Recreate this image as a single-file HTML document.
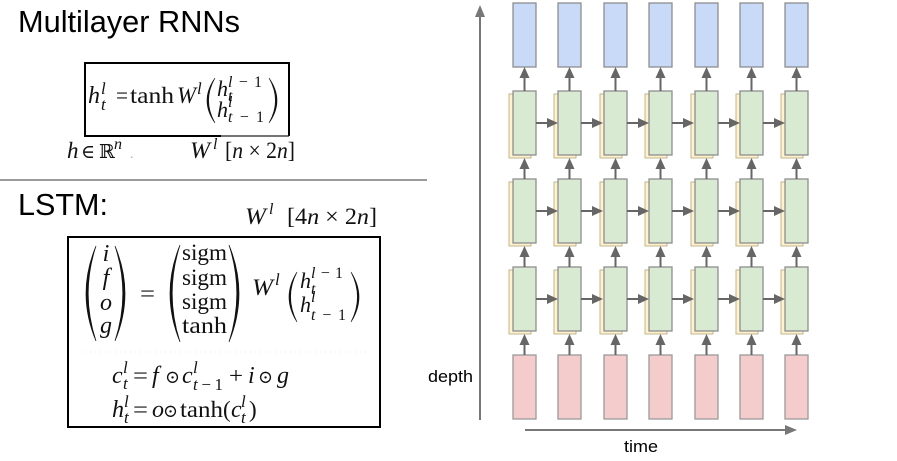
<!DOCTYPE html>
<html><head><meta charset="utf-8"><style>
html,body{margin:0;padding:0;background:#fff;}
svg{display:block;}
.s{font-family:"Liberation Sans",sans-serif;fill:#000;}
.m{font-family:"Liberation Serif","DejaVu Serif",serif;fill:#111;font-size:23px;}
.i{font-style:italic;}
.d{font-family:"DejaVu Serif","Liberation Serif",serif;}
</style></head><body>
<svg width="897" height="461" viewBox="0 0 897 461" xmlns="http://www.w3.org/2000/svg">
<rect width="897" height="461" fill="#fff"/>

<!-- ===== Left: Multilayer RNNs ===== -->
<text class="s" x="18" y="32" font-size="30.5" textLength="222" lengthAdjust="spacingAndGlyphs">Multilayer RNNs</text>

<path d="M85 63 H289 V136" fill="none" stroke="#000" stroke-width="2"/>
<path d="M85 62 V136 H221" fill="none" stroke="#000" stroke-width="2"/>
<path d="M221 136 H289" fill="none" stroke="#222" stroke-width="1.2"/>

<g class="m">
  <text class="i" x="88" y="103" font-size="24">h</text>
  <text class="i" x="101" y="94" font-size="17">l</text>
  <text class="i" x="101" y="110" font-size="17">t</text>
  <text x="116" y="103" textLength="12" lengthAdjust="spacingAndGlyphs">=</text>
  <text x="130" y="103" textLength="44" lengthAdjust="spacingAndGlyphs">tanh</text>
  <text class="i" x="177" y="103" textLength="19" lengthAdjust="spacingAndGlyphs">W</text>
  <text class="i" x="197" y="94" font-size="17">l</text>
  <text class="i" x="217" y="96" font-size="22">h</text>
  <text x="228" y="87" font-size="16" textLength="34" lengthAdjust="spacing"><tspan font-style="italic">l</tspan>−1</text>
  <text class="i" x="228" y="101" font-size="16">t</text>
  <text class="i" x="217" y="117" font-size="22">h</text>
  <text class="i" x="228" y="107" font-size="16">l</text>
  <text x="228" y="122" font-size="16" textLength="36" lengthAdjust="spacing"><tspan font-style="italic">t</tspan>−1</text>
</g>
<!-- parens box1 -->
<path d="M215 78 Q199 100.5 215 123 Q202.2 100.5 215 78 Z" fill="#111" stroke="#111" stroke-width="0.6"/>
<path d="M269 78 Q285 100.5 269 123 Q281.8 100.5 269 78 Z" fill="#111" stroke="#111" stroke-width="0.6"/>

<g class="m">
  <text class="i" x="67" y="158">h</text>
  <text class="d" x="81" y="158" font-size="19">∈</text>
  <text class="d" x="99" y="158" font-size="19">ℝ</text>
  <text class="i" x="114" y="149" font-size="16">n</text>
  <text x="130" y="158" font-size="14" fill="#aaa">.</text>
  <text class="i" x="190" y="158" textLength="20" lengthAdjust="spacingAndGlyphs">W</text>
  <text class="i" x="213" y="149" font-size="16">l</text>
  <text x="225" y="158" textLength="70" lengthAdjust="spacingAndGlyphs">[<tspan font-style="italic">n</tspan> × 2<tspan font-style="italic">n</tspan>]</text>
</g>

<line x1="0" y1="180" x2="427" y2="180" stroke="#7a7a7a" stroke-width="1.5"/>

<!-- ===== LSTM ===== -->
<text class="s" x="18" y="215" font-size="30.5" textLength="90" lengthAdjust="spacingAndGlyphs">LSTM:</text>
<g class="m">
  <text class="i" x="245" y="224" textLength="21" lengthAdjust="spacingAndGlyphs">W</text>
  <text class="i" x="269" y="214" font-size="16">l</text>
  <text x="287" y="224" textLength="90" lengthAdjust="spacingAndGlyphs">[4<tspan font-style="italic">n</tspan> × 2<tspan font-style="italic">n</tspan>]</text>
</g>

<rect x="68" y="237" width="312" height="190" fill="none" stroke="#000" stroke-width="2"/>
<line x1="85" y1="352" x2="370" y2="352" stroke="#eeeeee" stroke-width="1" stroke-dasharray="1 4"/>

<!-- big parens -->
<path d="M96 246 Q76 293.5 96 341 Q80.4 293.5 96 246 Z" fill="#111" stroke="#111" stroke-width="0.7"/>
<path d="M115 246 Q135 293.5 115 341 Q130.6 293.5 115 246 Z" fill="#111" stroke="#111" stroke-width="0.7"/>
<path d="M180 245 Q160 293.5 180 342 Q164.4 293.5 180 245 Z" fill="#111" stroke="#111" stroke-width="0.7"/>
<path d="M229 245 Q249 293.5 229 342 Q244.6 293.5 229 245 Z" fill="#111" stroke="#111" stroke-width="0.7"/>
<path d="M297 272 Q281 297 297 322 Q284.2 297 297 272 Z" fill="#111" stroke="#111" stroke-width="0.6"/>
<path d="M351 272 Q367 297 351 322 Q363.8 297 351 272 Z" fill="#111" stroke="#111" stroke-width="0.6"/>

<g class="m">
  <text class="i" x="106" y="261" text-anchor="middle" font-size="24">i</text>
  <text class="i" x="106" y="285" text-anchor="middle" font-size="24">f</text>
  <text class="i" x="106" y="310" text-anchor="middle" font-size="24">o</text>
  <text class="i" x="106" y="333" text-anchor="middle" font-size="24">g</text>
  <text x="140" y="301" textLength="15" lengthAdjust="spacingAndGlyphs">=</text>
  <text x="182" y="260" textLength="45" lengthAdjust="spacingAndGlyphs">sigm</text>
  <text x="182" y="285" textLength="45" lengthAdjust="spacingAndGlyphs">sigm</text>
  <text x="182" y="309" textLength="45" lengthAdjust="spacingAndGlyphs">sigm</text>
  <text x="182" y="333" textLength="45" lengthAdjust="spacingAndGlyphs">tanh</text>
  <text class="i" x="252" y="295" textLength="21" lengthAdjust="spacingAndGlyphs">W</text>
  <text class="i" x="275" y="285" font-size="17">l</text>
  <text class="i" x="300" y="288" font-size="22">h</text>
  <text x="311" y="278" font-size="16" textLength="32" lengthAdjust="spacing"><tspan font-style="italic">l</tspan>−1</text>
  <text class="i" x="311" y="294" font-size="16">t</text>
  <text class="i" x="300" y="312" font-size="22">h</text>
  <text class="i" x="311" y="302" font-size="16">l</text>
  <text x="311" y="320" font-size="16" textLength="35" lengthAdjust="spacing"><tspan font-style="italic">t</tspan>−1</text>

  <!-- c line -->
  <text class="i" x="112" y="383" font-size="24">c</text>
  <text class="i" x="123" y="373" font-size="17">l</text>
  <text class="i" x="123" y="389" font-size="17">t</text>
  <text x="133" y="383" textLength="15" lengthAdjust="spacingAndGlyphs">=</text>
  <text class="i" x="152" y="383" font-size="24">f</text>
  <text class="d" x="165" y="383" font-size="18">⊙</text>
  <text class="i" x="182" y="383" font-size="24">c</text>
  <text class="i" x="193" y="373" font-size="17">l</text>
  <text x="193" y="390" font-size="17" textLength="30" lengthAdjust="spacing"><tspan font-style="italic">t</tspan>−1</text>
  <text x="229" y="383" textLength="14" lengthAdjust="spacingAndGlyphs">+</text>
  <text class="i" x="248" y="383" font-size="24">i</text>
  <text class="d" x="258" y="383" font-size="18">⊙</text>
  <text class="i" x="277" y="383" font-size="24">g</text>

  <!-- h line -->
  <text class="i" x="112" y="417" font-size="24">h</text>
  <text class="i" x="124" y="407" font-size="17">l</text>
  <text class="i" x="124" y="423" font-size="17">t</text>
  <text x="133" y="417" textLength="15" lengthAdjust="spacingAndGlyphs">=</text>
  <text class="i" x="152" y="417" font-size="24">o</text>
  <text class="d" x="163" y="417" font-size="18">⊙</text>
  <text x="180" y="417" textLength="43" lengthAdjust="spacingAndGlyphs">tanh</text>
  <text x="223" y="417">(</text>
  <text class="i" x="231" y="417" font-size="24">c</text>
  <text class="i" x="241" y="407" font-size="17">l</text>
  <text class="i" x="241" y="423" font-size="17">t</text>
  <text x="249" y="417">)</text>
</g>

<!-- ===== Right: diagram ===== -->
<defs>
  <g id="col">
    <rect x="0" y="3" width="23" height="64" fill="#c9daf8" stroke="#8e8e8e" stroke-width="1.3"/>
    <rect x="-4" y="94" width="22" height="64" fill="#fff2cc" stroke="#c2b690" stroke-width="1"/>
    <rect x="0" y="91" width="23" height="64" fill="#d9ead3" stroke="#8e8e8e" stroke-width="1.3"/>
    <rect x="-4" y="182" width="22" height="64" fill="#fff2cc" stroke="#c2b690" stroke-width="1"/>
    <rect x="0" y="179" width="23" height="64" fill="#d9ead3" stroke="#8e8e8e" stroke-width="1.3"/>
    <rect x="-4" y="270" width="22" height="64" fill="#fff2cc" stroke="#c2b690" stroke-width="1"/>
    <rect x="0" y="267" width="23" height="64" fill="#d9ead3" stroke="#8e8e8e" stroke-width="1.3"/>
    <rect x="0" y="355" width="23" height="64" fill="#f4cccc" stroke="#9a9a9a" stroke-width="1.3"/>
    <g stroke="#666" stroke-width="2">
      <line x1="11.5" y1="91" x2="11.5" y2="76"/>
      <line x1="11.5" y1="179" x2="11.5" y2="166"/>
      <line x1="11.5" y1="267" x2="11.5" y2="254"/>
      <line x1="11.5" y1="355" x2="11.5" y2="342"/>
    </g>
    <g fill="#666">
      <polygon points="11.5,67 6.5,78 16.5,78"/>
      <polygon points="11.5,158 6.5,169 16.5,169"/>
      <polygon points="11.5,246 6.5,257 16.5,257"/>
      <polygon points="11.5,334 6.5,345 16.5,345"/>
    </g>
  </g>
  <g id="harr">
    <g stroke="#666" stroke-width="2">
      <line x1="23" y1="123" x2="36" y2="123"/>
      <line x1="23" y1="211" x2="36" y2="211"/>
      <line x1="23" y1="299" x2="36" y2="299"/>
    </g>
    <g fill="#666">
      <polygon points="45,123 34,118 34,128"/>
      <polygon points="45,211 34,206 34,216"/>
      <polygon points="45,299 34,294 34,304"/>
    </g>
  </g>
</defs>

<use href="#col" x="513"/>
<use href="#col" x="558"/>
<use href="#col" x="604"/>
<use href="#col" x="649"/>
<use href="#col" x="695"/>
<use href="#col" x="740"/>
<use href="#col" x="785"/>

<use href="#harr" x="513"/>
<use href="#harr" x="558"/>
<use href="#harr" x="604"/>
<use href="#harr" x="649"/>
<use href="#harr" x="695"/>
<use href="#harr" x="740"/>

<!-- depth axis -->
<line x1="480" y1="420" x2="480" y2="14" stroke="#777" stroke-width="2"/>
<polygon points="480,5 475,17 485,17" fill="#777"/>
<text class="s" x="428" y="382" font-size="17" textLength="45" lengthAdjust="spacingAndGlyphs">depth</text>

<!-- time axis -->
<line x1="525" y1="430" x2="787" y2="430" stroke="#777" stroke-width="2"/>
<polygon points="797,430 785,425 785,435" fill="#777"/>
<text class="s" x="624" y="452" font-size="17" textLength="34" lengthAdjust="spacingAndGlyphs">time</text>
</svg>
</body></html>
